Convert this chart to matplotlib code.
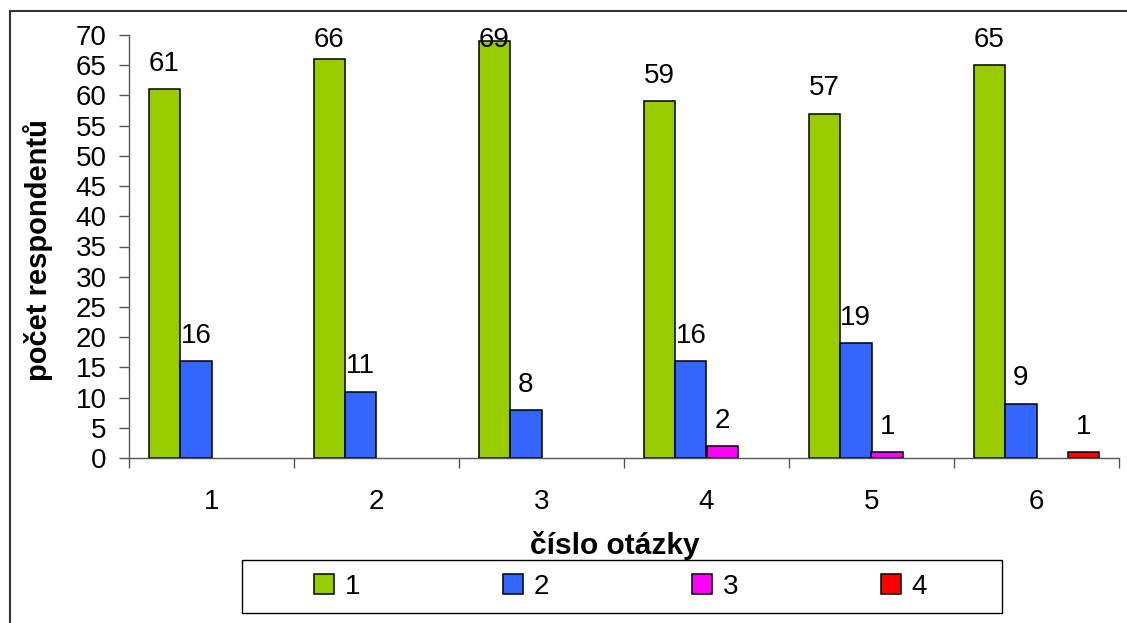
import numpy as np
import matplotlib
matplotlib.use("Agg")
import matplotlib.pyplot as plt
from matplotlib.lines import Line2D
from matplotlib.patches import Rectangle

plt.rcParams['font.family'] = ['Liberation Sans', 'DejaVu Sans']

questions = ['1', '2', '3', '4', '5', '6']
series_names = ['1', '2', '3', '4']
s1 = [61, 66, 69, 59, 57, 65]
s2 = [16, 11, 8, 16, 19, 9]
s3 = [0, 0, 0, 2, 1, 0]
s4 = [0, 0, 0, 0, 0, 1]
colors = ['#99CC00', '#3366FF', '#FF00FF', '#FF0000']

W, H = 1127, 623
fig = plt.figure(figsize=(W / 100, H / 100), dpi=100)
ax = fig.add_axes([129 / W, 1 - 458 / H, (1119 - 129) / W, (458 - 35) / H])

x = np.arange(len(questions))
width = 0.19
for j, vals in enumerate([s1, s2, s3, s4]):
    pos = x + (j - 1.5) * width
    lw = [1.1 if v > 0 else 0 for v in vals]
    ax.bar(pos, vals, width, color=colors[j], edgecolor='black', linewidth=lw, zorder=2)
    for p, v in zip(pos, vals):
        if v > 0:
            # label sits ~3 units above the bar, but is kept inside the chart area
            ax.text(p, min(v + 3.0, 68.0), str(v), ha='center', va='baseline',
                    fontsize=20, zorder=3)

ax.set_xlim(-0.5, len(questions) - 0.5)
ax.set_ylim(0, 70)
ax.set_yticks(range(0, 71, 5))
ax.tick_params(axis='y', labelsize=20, length=7, width=1, color='#555555', pad=9)

# category boundaries as ticks, labels at the centres
ax.set_xticks(np.arange(-0.5, len(questions), 1))
ax.set_xticklabels([])
ax.set_xticks(x, minor=True)
ax.set_xticklabels(questions, minor=True)
ax.tick_params(axis='x', which='major', length=7, width=1, color='#555555')
ax.tick_params(axis='x', which='minor', length=0, labelsize=20, pad=22)

for s in ['top', 'right']:
    ax.spines[s].set_visible(False)
for s in ['left', 'bottom']:
    ax.spines[s].set_color('#555555')
    ax.spines[s].set_linewidth(1)

fig.text(615 / W, 1 - 546 / H, 'číslo otázky', ha='center', va='center',
         fontsize=21.5, fontweight='bold')
fig.text(38 / W, 1 - 250 / H, 'počet respondentů', ha='center', va='center',
         rotation=90, fontsize=21, fontweight='bold')

handles = [Line2D([], [], marker='s', linestyle='none', markersize=14.5,
                  markerfacecolor=c, markeredgecolor='black', markeredgewidth=1.1)
           for c in colors]
fig.legend(handles, series_names, loc='center', bbox_to_anchor=(620 / W, 1 - 587 / H),
           ncol=4, frameon=False, fontsize=20, columnspacing=5.1,
           handletextpad=0.35, handlelength=0.8)
fig.patches.append(Rectangle((242 / W, 1 - 613 / H), 760 / W, 53 / H, fill=False,
                             edgecolor='black', linewidth=1, transform=fig.transFigure))
# outer chart border (runs off the right and bottom edge)
fig.patches.append(Rectangle((10 / W, -0.1), 1.2, 1.1 - 11 / H, fill=False,
                             edgecolor='#333333', linewidth=1.5, transform=fig.transFigure))

fig.savefig('out.png', dpi=100)
